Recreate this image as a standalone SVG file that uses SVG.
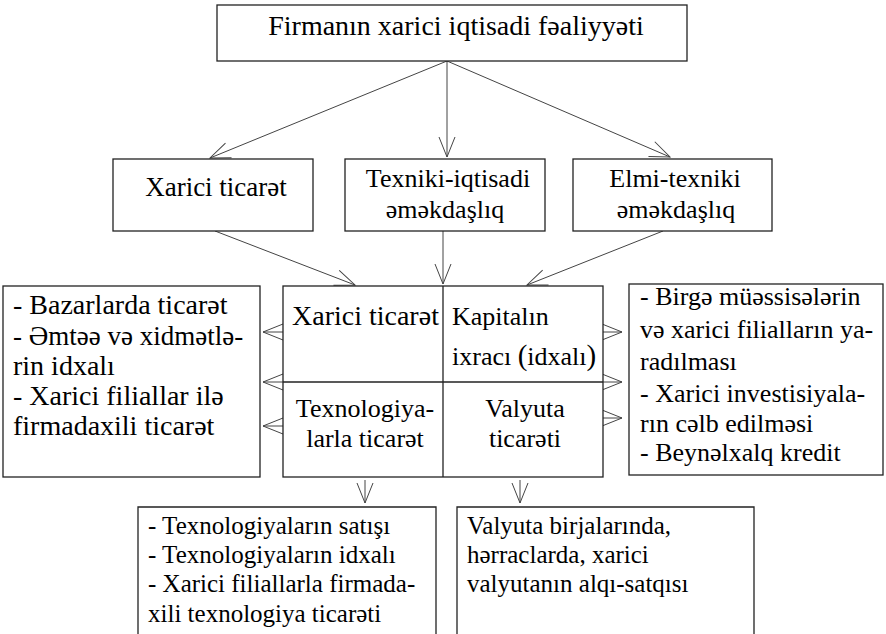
<svg xmlns="http://www.w3.org/2000/svg" width="886" height="634" viewBox="0 0 886 634">
<defs>
<style>
.box{fill:#fff;stroke:#222;stroke-width:1.3}
.ln{fill:none;stroke:#222;stroke-width:1.3}
.c{fill:none;stroke:#444;stroke-width:1}
.t28{font-size:28px}
.t27{font-size:27px}
.t26{font-size:26px}
.t25{font-size:25px}
.m{text-anchor:middle}
</style>
<marker id="ah" markerUnits="userSpaceOnUse" markerWidth="24" markerHeight="20" refX="0" refY="0" viewBox="-22 -10 24 20" orient="auto" overflow="visible">
<path d="M-20,-8 L0,0 L-20,8" fill="none" stroke="#444" stroke-width="1"/>
</marker>
</defs>
<rect width="886" height="634" fill="#fff"/>

<g id="connectors">
<line class="c" x1="447" y1="61" x2="210" y2="158" marker-end="url(#ah)"/>
<line class="c" x1="447" y1="61" x2="447" y2="157" marker-end="url(#ah)"/>
<line class="c" x1="447" y1="61" x2="670" y2="157" marker-end="url(#ah)"/>
<line class="c" x1="215" y1="231" x2="355" y2="285" marker-end="url(#ah)"/>
<line class="c" x1="443" y1="231" x2="443" y2="284" marker-end="url(#ah)"/>
<line class="c" x1="663" y1="231" x2="527" y2="285" marker-end="url(#ah)"/>
<line class="c" x1="283" y1="332" x2="263" y2="332" marker-end="url(#ah)"/>
<line class="c" x1="443" y1="382" x2="263" y2="382" marker-end="url(#ah)"/>
<line class="c" x1="283" y1="426" x2="263" y2="426" marker-end="url(#ah)"/>
<line class="c" x1="603" y1="332" x2="622" y2="332" marker-end="url(#ah)"/>
<line class="c" x1="443" y1="382" x2="622" y2="382" marker-end="url(#ah)"/>
<line class="c" x1="603" y1="418" x2="622" y2="418" marker-end="url(#ah)"/>
<line class="c" x1="365" y1="480" x2="365" y2="503" marker-end="url(#ah)"/>
<line class="c" x1="520" y1="480" x2="520" y2="503" marker-end="url(#ah)"/>
</g>

<g font-family="'Liberation Serif', 'Times New Roman', serif" fill="#000">
<g id="top">
<rect class="box" x="217" y="5" width="470" height="56"/>
<text class="t28 m" x="456" y="35">Firmanın xarici iqtisadi fəaliyyəti</text>
</g>

<g id="xarici-ticaret">
<rect class="box" x="113" y="159" width="200" height="72"/>
<text class="t27 m" x="216" y="196">Xarici ticarət</text>
</g>

<g id="texniki-iqtisadi">
<rect class="box" x="345" y="159" width="200" height="72"/>
<text class="t26 m" x="448" y="187">Texniki-iqtisadi</text>
<text class="t26 m" x="445" y="218">əməkdaşlıq</text>
</g>

<g id="elmi-texniki">
<rect class="box" x="573" y="159" width="199" height="72"/>
<text class="t26 m" x="675" y="187">Elmi-texniki</text>
<text class="t26 m" x="676" y="218">əməkdaşlıq</text>
</g>

<g id="grid">
<rect class="box" x="283" y="286" width="320" height="191"/>
<line class="ln" x1="443" y1="286" x2="443" y2="477"/>
<line class="ln" x1="283" y1="382" x2="603" y2="382"/>
<text class="t28" x="292" y="325">Xarici ticarət</text>
<text class="t26" x="452" y="325">Kapitalın</text>
<text class="t26" x="452" y="365">ixracı <tspan font-size="29">(</tspan>idxalı<tspan font-size="29">)</tspan></text>
<text class="t26 m" x="365" y="417">Texnologiya-</text>
<text class="t26 m" x="365" y="447">larla ticarət</text>
<text class="t26 m" x="525" y="417">Valyuta</text>
<text class="t26 m" x="525" y="447">ticarəti</text>
</g>

<g id="left-box">
<rect class="box" x="3" y="286" width="257" height="191"/>
<text class="t28" x="13" y="314">- Bazarlarda ticarət</text>
<text class="t27" x="13" y="345">- Əmtəə və xidmətlə-</text>
<text class="t28" x="13" y="375">rin idxalı</text>
<text class="t28" x="13" y="405">- Xarici filiallar ilə</text>
<text class="t28" x="13" y="435">firmadaxili ticarət</text>
</g>

<g id="right-box">
<rect class="box" x="629" y="284" width="254" height="191"/>
<text class="t26" x="640" y="305">- Birgə müəssisələrin</text>
<text class="t26" x="640" y="338">və xarici filialların ya-</text>
<text class="t26" x="640" y="370">radılması</text>
<text class="t26" x="640" y="402">- Xarici investisiyala-</text>
<text class="t26" x="640" y="432">rın cəlb edilməsi</text>
<text class="t26" x="640" y="461">- Beynəlxalq kredit</text>
</g>

<g id="texnologiya-box">
<path class="ln" d="M138,640 V507 H436 V640"/>
<text class="t25" x="148" y="534">- Texnologiyaların satışı</text>
<text class="t25" x="148" y="563">- Texnologiyaların idxalı</text>
<text class="t25" x="148" y="592">- Xarici filiallarla firmada-</text>
<text class="t25" x="148" y="622">xili texnologiya ticarəti</text>
</g>

<g id="valyuta-box">
<path class="ln" d="M457,640 V507 H754 V640"/>
<text class="t25" x="467" y="534">Valyuta birjalarında,</text>
<text class="t25" x="467" y="563">hərraclarda, xarici</text>
<text class="t25" x="467" y="592">valyutanın alqı-satqısı</text>
</g>
</g>
</svg>
